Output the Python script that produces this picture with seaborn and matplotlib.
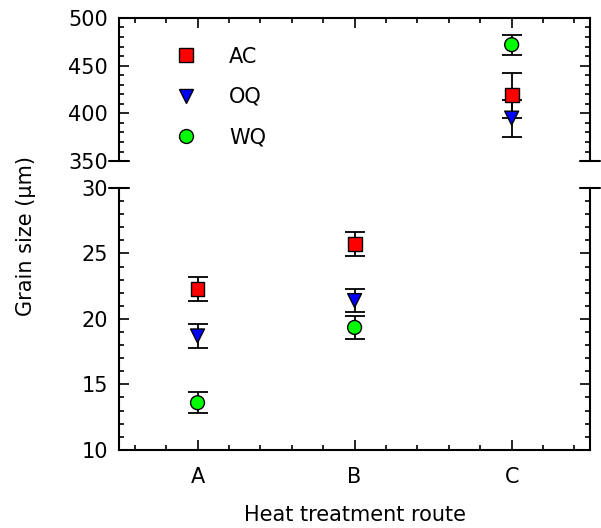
import numpy as np
import pandas as pd
import matplotlib
matplotlib.use('Agg')
import matplotlib.pyplot as plt
from matplotlib.ticker import MultipleLocator
import seaborn as sns

## Values
routes = ['A', 'B', 'C']
treatments = ['AC', 'OQ', 'WQ']
size_ac = [22.3, 25.7, 419.0]
size_oq = [18.7, 21.4, 395.0]
size_wq = [13.6, 19.35, 472.0]
err_ac = [0.9, 0.9, 23.5]
err_oq = [0.9, 0.9, 19.5]
err_wq = [0.8, 0.9, 10.5]

df = pd.DataFrame({
    'route': routes * 3,
    'treatment': np.repeat(treatments, 3),
    'size': size_ac + size_oq + size_wq,
    'err': err_ac + err_oq + err_wq,
})

colors = {'AC': '#ff0000', 'OQ': '#0000ff', 'WQ': '#00ff00'}
markers = {'AC': 's', 'OQ': 'v', 'WQ': 'o'}

sns.set_style('ticks')
plt.rcParams['font.family'] = ['DejaVu Sans']
plt.rcParams['font.size'] = 15
for k in ['text.color', 'axes.labelcolor', 'xtick.color', 'ytick.color', 'axes.edgecolor']:
    plt.rcParams[k] = 'black'

fig = plt.figure(figsize=(6.01, 5.28), dpi=100)
ax_top = fig.add_axes([0.198, 0.695, 0.784, 0.271])
ax_bot = fig.add_axes([0.198, 0.148, 0.784, 0.496], sharex=ax_top)

for ax in (ax_top, ax_bot):
    # error bars first, markers on top
    for t in treatments:
        sub = df[df.treatment == t]
        ax.errorbar(sub.route, sub['size'], yerr=sub.err, fmt='none',
                    ecolor='black', elinewidth=1.3, capsize=7.5, capthick=1.3, zorder=2)
    sns.scatterplot(data=df, x='route', y='size', hue='treatment', style='treatment',
                    palette=colors, markers=markers, s=100, edgecolor='black',
                    linewidth=1.0, ax=ax, zorder=3, legend=(ax is ax_top))
    ax.set_xlim(-0.5, 2.5)
    ax.xaxis.set_minor_locator(MultipleLocator(0.2))
    ax.set_xlabel('')
    ax.set_ylabel('')
    for s in ax.spines.values():
        s.set_linewidth(1.5)
        s.set_color('black')
    ax.tick_params(which='both', direction='in', width=1.2, labelsize=15, color='black')
    ax.tick_params(which='major', length=7)
    ax.tick_params(which='minor', length=3.5)
    ax.tick_params(axis='y', pad=8)

ax_top.set_ylim(350, 500)
ax_top.yaxis.set_major_locator(MultipleLocator(50))
ax_top.yaxis.set_minor_locator(MultipleLocator(10))
ax_top.spines['bottom'].set_visible(False)
ax_top.tick_params(which='both', top=True, bottom=False, labelbottom=False, right=True)

ax_bot.set_ylim(10, 30)
ax_bot.yaxis.set_major_locator(MultipleLocator(5))
ax_bot.yaxis.set_minor_locator(MultipleLocator(1))
ax_bot.spines['top'].set_visible(False)
ax_bot.tick_params(which='both', top=False, bottom=True, right=True)
ax_bot.tick_params(axis='x', pad=12)

# break marks on the spines
dx = 0.021
kw = dict(color='black', lw=1.5, clip_on=False)
ax_top.plot([-dx, dx], [0, 0], transform=ax_top.transAxes, **kw)
ax_top.plot([1 - dx, 1 + dx], [0, 0], transform=ax_top.transAxes, **kw)
ax_bot.plot([-dx, dx], [1, 1], transform=ax_bot.transAxes, **kw)
ax_bot.plot([1 - dx, 1 + dx], [1, 1], transform=ax_bot.transAxes, **kw)

leg = ax_top.legend(loc='upper left', bbox_to_anchor=(0.058, 0.93), frameon=False,
                    fontsize=15, labelspacing=0.97, handletextpad=1.07, title=None)

ax_bot.set_xlabel('Heat treatment route', fontsize=15, labelpad=13)
fig.text(0.043, 0.553, 'Grain size (\u03bcm)', rotation=90, ha='center', va='center', fontsize=15)

fig.savefig('out.png', dpi=100)
